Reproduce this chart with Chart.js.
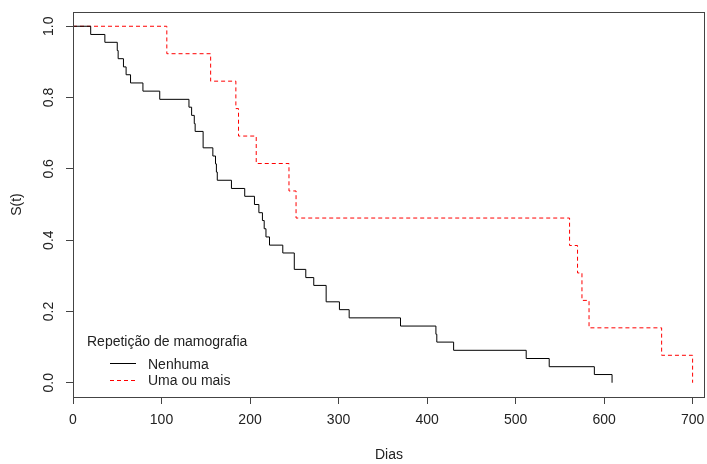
<html>
	<head>
		<script src="https://cdn.jsdelivr.net/npm/chart.js@4.4.1/dist/chart.umd.min.js"></script>
		<style>
			body { margin:0; background:#fff; }
			#km { display:block; }
		</style>
	</head>
	<body>
		<canvas id="km" width="707" height="464"></canvas>
	</body>
	<script>
		// Kaplan-Meier curves (time in days, S(t) after each step)
		let nenhumaDias = [0, 20, 36, 50, 51, 57, 60, 65, 79, 98, 131, 134, 137, 138, 147, 158, 161, 162, 163, 179, 194, 205, 210, 214, 216, 218, 222, 237, 250, 263, 272, 286, 301, 312, 370, 410, 411, 430, 512, 538, 589, 609];
		let nenhumaS = [1, 0.977, 0.955, 0.932, 0.909, 0.886, 0.864, 0.841, 0.818, 0.795, 0.773, 0.750, 0.727, 0.705, 0.659, 0.636, 0.614, 0.591, 0.568, 0.545, 0.523, 0.500, 0.477, 0.455, 0.432, 0.409, 0.386, 0.364, 0.318, 0.295, 0.273, 0.227, 0.205, 0.182, 0.159, 0.136, 0.114, 0.091, 0.068, 0.045, 0.023, 0];
		let umaDias = [0, 106, 155.5, 184, 187, 207, 244, 252, 561, 570, 575, 583, 665, 700];
		let umaS = [1, 0.923, 0.846, 0.769, 0.692, 0.615, 0.538, 0.462, 0.385, 0.308, 0.231, 0.154, 0.077, 0];

		let xTicks = [0, 100, 200, 300, 400, 500, 600, 700];
		let yTicks = [0, 0.2, 0.4, 0.6, 0.8, 1.0];
		let seriesNames = ["Nenhuma", "Uma ou mais"];
		let legendTitle = "Repetição de mamografia";

		let FONT = "Arial, 'Liberation Sans', sans-serif";
		let FSIZE = 14;
		let TXT = '#222';

		function toPoints(xs, ys){
			return xs.map((x, i) => ({x: x, y: ys[i]}));
		}

		// box, rotated y labels, y title and legend (R style)
		const rExtras = {
			id: 'rExtras',
			afterDraw(chart){
				const ctx = chart.ctx, a = chart.chartArea, ys = chart.scales.y;
				ctx.save();
				ctx.strokeStyle = '#444'; ctx.lineWidth = 1;
				ctx.strokeRect(a.left + 0.5, a.top + 0.5, a.right - a.left - 1, a.bottom - a.top);

				ctx.fillStyle = TXT;
				ctx.font = FSIZE + "px " + FONT;
				ctx.textAlign = 'center'; ctx.textBaseline = 'middle';
				yTicks.forEach(v => {
					ctx.save();
					ctx.translate(49, ys.getPixelForValue(v));
					ctx.rotate(-Math.PI/2);
					ctx.fillText(v.toFixed(1), 0, 0);
					ctx.restore();
				});
				ctx.save();
				ctx.translate(17, (a.top + a.bottom)/2);
				ctx.rotate(-Math.PI/2);
				ctx.fillText("S(t)", 0, 0);
				ctx.restore();

				// legend
				ctx.textAlign = 'left';
				ctx.fillText(legendTitle, 87, 342);
				ctx.fillText(seriesNames[0], 148, 365);
				ctx.fillText(seriesNames[1], 148, 381);
				ctx.beginPath(); ctx.strokeStyle = '#000';
				ctx.moveTo(110, 363.5); ctx.lineTo(136, 363.5); ctx.stroke();
				ctx.beginPath(); ctx.strokeStyle = '#ff0000'; ctx.setLineDash([4, 3]);
				ctx.moveTo(110, 380.5); ctx.lineTo(136, 380.5); ctx.stroke();
				ctx.restore();
			}
		};

		const ctx = document.getElementById('km').getContext('2d');
		const kmChart = new Chart(ctx, {
			type: 'line',
			data: {
				datasets: [
					{
						label: seriesNames[0],
						data: toPoints(nenhumaDias, nenhumaS),
						borderColor: '#000',
						borderWidth: 1,
						pointRadius: 0,
						stepped: 'before',
						fill: false
					},
					{
						label: seriesNames[1],
						data: toPoints(umaDias, umaS),
						borderColor: '#ff0000',
						borderWidth: 1,
						borderDash: [4, 3],
						pointRadius: 0,
						stepped: 'before',
						fill: false
					}
				]
			},
			options: {
				responsive: false,
				animation: false,
				layout: { padding: { top: 12, right: 2, left: 0, bottom: 0 } },
				plugins: { legend: { display: false }, tooltip: { enabled: false } },
				scales: {
					x: {
						type: 'linear',
						min: 0, max: 714,
						afterFit: s => { s.height = 67; s.paddingLeft = 0; s.paddingRight = 0; },
						afterBuildTicks: s => { s.ticks = xTicks.map(v => ({value: v})); },
						ticks: { color: TXT, font: { family: FONT, size: FSIZE }, padding: 8, maxRotation: 0, autoSkip: false },
						grid: { drawOnChartArea: false, drawTicks: true, tickLength: 7, color: '#444' },
						border: { display: false },
						title: { display: true, text: 'Dias', color: TXT, font: { family: FONT, size: FSIZE }, padding: { top: 0, bottom: 0 } }
					},
					y: {
						min: -0.04, max: 1.04,
						afterFit: s => { s.width = 73; s.paddingTop = 0; s.paddingBottom = 0; },
						afterBuildTicks: s => { s.ticks = yTicks.map(v => ({value: v})); },
						ticks: { display: false },
						grid: { drawOnChartArea: false, drawTicks: true, tickLength: 7, color: '#444' },
						border: { display: false }
					}
				}
			},
			plugins: [rExtras]
		});
	</script>
</html>
